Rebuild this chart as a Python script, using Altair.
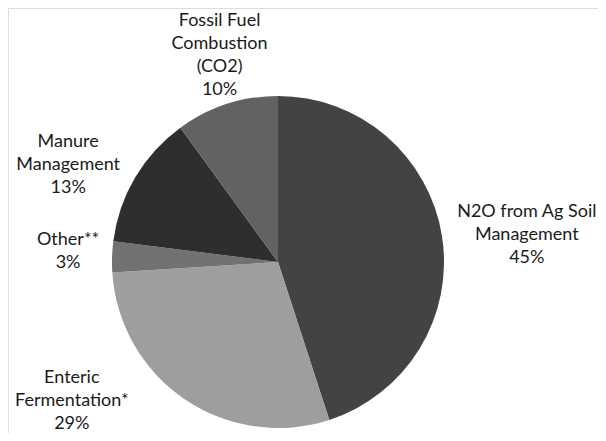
import altair as alt
import pandas as pd

# ---- data ----
categories = ["N2O from Ag Soil Management", "Enteric Fermentation*", "Other**",
              "Manure Management", "Fossil Fuel Combustion (CO2)"]
values = [45, 29, 3, 13, 10]
label_lines = [
    ["N2O from Ag Soil", "Management", "45%"],
    ["Enteric", "Fermentation*", "29%"],
    ["Other**", "3%"],
    ["Manure", "Management", "13%"],
    ["Fossil Fuel", "Combustion", "(CO2)", "10%"],
]

# ---- style ----
colors = ["#434343", "#9e9e9e", "#727272", "#2e2e2e", "#626262"]
CX, CY = 270, 254
R = 166
FONT = "Lato"
FS = 18
LH = 23
label_place = {  # radius, dx, dy (to the block centre) per slice label
    "N2O from Ag Soil Management": (257, -5, 13),
    "Enteric Fermentation*": (253, -64, -70),
    "Other**": (210, 0, -4),
    "Manure Management": (231, -11, 21),
    "Fossil Fuel Combustion (CO2)": (215, 8, -2),
}

df = pd.DataFrame({
    "cat": categories,
    "value": values,
    "idx": list(range(len(categories))),
    "label": label_lines,
})

base = alt.Chart(df).transform_window(
    cum="sum(value)", sort=[alt.SortField("idx")]
).transform_calculate(mid="datum.cum - datum.value / 2")

pie = alt.Chart(df).mark_arc(outerRadius=R, strokeWidth=0).encode(
    theta=alt.Theta("value:Q", stack=True),
    order=alt.Order("idx:Q"),
    color=alt.Color("cat:N", scale=alt.Scale(domain=categories, range=colors), legend=None),
    x=alt.value(CX),
    y=alt.value(CY),
)

layers = [pie]
for c, lines in zip(categories, label_lines):
    r, dx, dy = label_place[c]
    dy = dy - (len(lines) - 1) * LH / 2
    layers.append(
        base.transform_filter(alt.datum.cat == c).mark_text(
            radius=r, dx=dx, dy=dy, font=FONT, fontSize=FS, lineHeight=LH,
            align="center", baseline="middle", color="#1a1a1a",
        ).encode(
            theta=alt.Theta("mid:Q", stack=None, scale=alt.Scale(domain=[0, 100])),
            text="label",
            x=alt.value(CX),
            y=alt.value(CY),
        )
    )

chart = alt.layer(*layers).properties(
    width=590, height=425, autosize="none", padding=0
).configure_view(strokeWidth=0, stroke="transparent").configure(background="white")

chart.save("out.html", embed_options={"renderer": "svg", "actions": False})
